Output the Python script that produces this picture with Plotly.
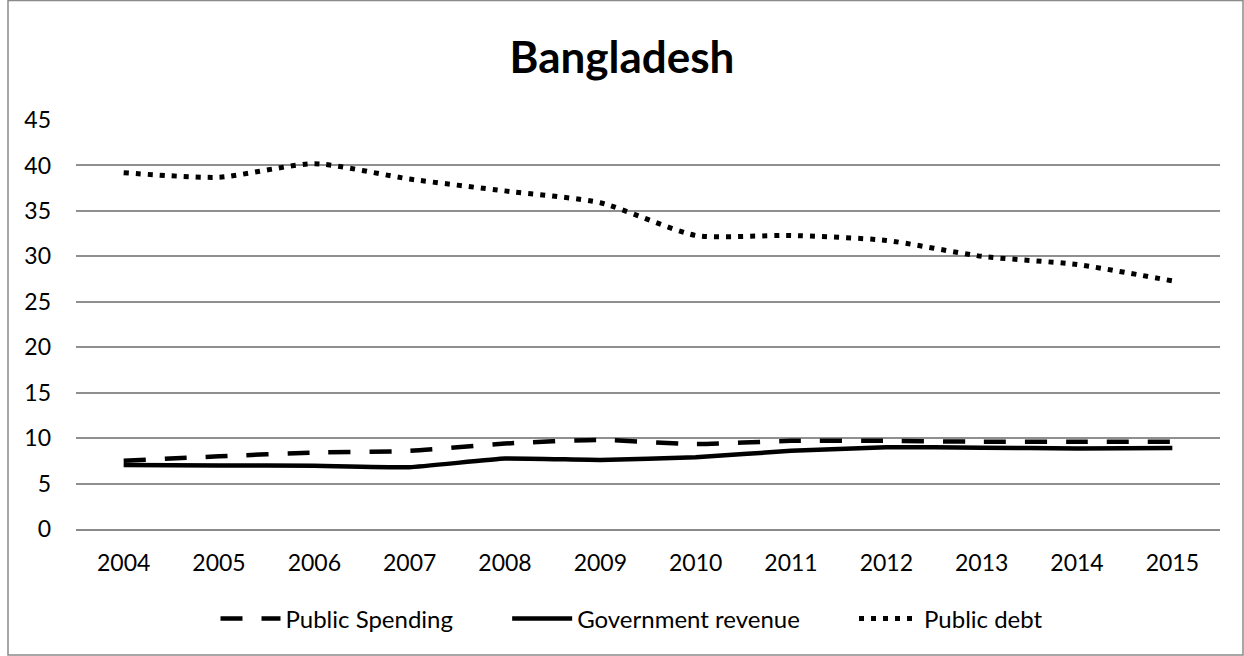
import plotly.graph_objects as go

years = ["2004", "2005", "2006", "2007", "2008", "2009", "2010", "2011", "2012", "2013", "2014", "2015"]
public_spending = [7.5, 8.0, 8.4, 8.6, 9.4, 9.8, 9.35, 9.7, 9.7, 9.6, 9.6, 9.6]
government_revenue = [7.05, 7.0, 6.95, 6.8, 7.75, 7.6, 7.9, 8.6, 9.0, 8.95, 8.85, 8.9]
public_debt = [39.2, 38.7, 40.2, 38.5, 37.2, 35.9, 32.3, 32.3, 31.75, 30.0, 29.1, 27.3]

W, H = 1244, 656
ML, MR, MT, MB = 76, 24, 120, 127
pw, ph = W - ML - MR, H - MT - MB

FONT = "Lato, 'Open Sans', sans-serif"
NB = "\u00a0"

fig = go.Figure()
fig.add_trace(go.Scatter(x=years, y=public_spending, name="Public Spending" + NB * 8, mode="lines",
                         line=dict(color="black", width=4.5, dash="22px,19px", shape="spline", smoothing=0.6)))
fig.add_trace(go.Scatter(x=years, y=government_revenue, name="Government revenue" + NB * 8, mode="lines",
                         line=dict(color="black", width=4.5, shape="spline", smoothing=0.3)))
fig.add_trace(go.Scatter(x=years, y=public_debt, name="Public debt", mode="lines",
                         line=dict(color="black", width=5, dash="5px,7px", shape="spline", smoothing=0.6)))

def px_x(p):
    return (p - ML) / pw

def px_y(p):
    return (H - MB - p) / ph

fig.add_shape(type="rect", xref="paper", yref="paper",
              x0=px_x(8), x1=px_x(1243), y0=px_y(655), y1=px_y(0.5),
              line=dict(color="#8a8a8a", width=1.5), fillcolor="rgba(0,0,0,0)", layer="below")

fig.update_layout(
    width=W, height=H,
    margin=dict(l=ML, r=MR, t=MT, b=MB),
    paper_bgcolor="white", plot_bgcolor="white",
    font=dict(family=FONT, size=23, color="black"),
    title=dict(text="<b>Bangladesh</b>", x=0.5, xanchor="center", y=1 - 58 / H, yanchor="middle",
               font=dict(family=FONT, size=44, color="black")),
    showlegend=True,
    legend=dict(orientation="h", xref="container", x=632 / W, xanchor="center",
                yref="container", y=1 - 619 / H, yanchor="middle",
                font=dict(family=FONT, size=24, color="black"), itemwidth=60,
                bgcolor="rgba(0,0,0,0)"),
    xaxis=dict(type="category", range=[-0.5, 11.5], showgrid=False, showline=True,
               linecolor="#8a8a8a", linewidth=1.5,
               ticks="", tickfont=dict(size=23), ticklabelstandoff=13),
    yaxis=dict(range=[0, 45], dtick=5, tick0=0, showgrid=True, gridcolor="#8f8f8f", gridwidth=1.5,
               zeroline=False, showline=False, ticks="", tickfont=dict(size=23), ticklabelstandoff=24),
)

fig.write_html("out.html")
